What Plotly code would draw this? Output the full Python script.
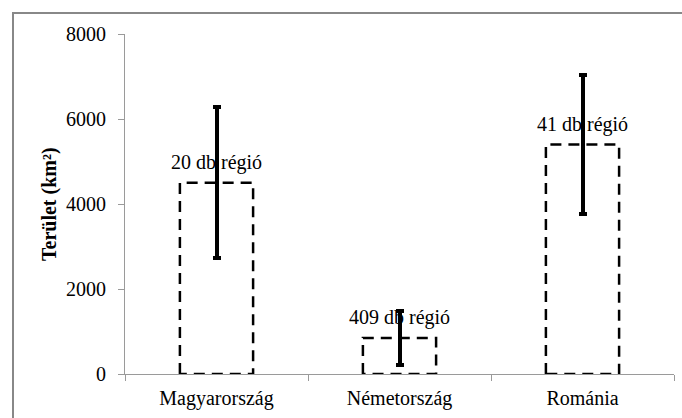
import plotly.graph_objects as go

categories = ["Magyarország", "Németország", "Románia"]
means = [4500, 850, 5400]
errors = [1780, 640, 1640]
labels = ["20 db régió", "409 db régió", "41 db régió"]
y_ticks = [0, 2000, 4000, 6000, 8000]

FONT = "'Liberation Serif', 'Times New Roman', serif"
BAR_W = 0.4
AX_COLOR = "#9a9a9a"

xs = list(range(len(categories)))

fig = go.Figure()

fig.add_trace(go.Bar(
    x=xs, y=means, width=BAR_W,
    marker=dict(color="white", line=dict(width=0)),
    error_y=dict(type="data", array=errors, visible=True,
                 color="black", thickness=4, width=4),
    showlegend=False, hoverinfo="skip",
))

for i, v in zip(xs, means):
    fig.add_trace(go.Scatter(
        x=[i - BAR_W / 2, i - BAR_W / 2, i + BAR_W / 2, i + BAR_W / 2, i - BAR_W / 2],
        y=[0, v, v, 0, 0],
        mode="lines",
        line=dict(color="black", width=2.5, dash="11px,7px"),
        showlegend=False, hoverinfo="skip",
    ))

for i, v, t in zip(xs, means, labels):
    fig.add_annotation(x=i, y=v, xref="x", yref="y", text=t, showarrow=False,
                       xanchor="center", yanchor="bottom", yshift=7,
                       font=dict(family=FONT, size=20, color="black"))

fig.add_annotation(xref="paper", yref="paper", x=(49 - 125) / 549, y=0.5,
                   xanchor="center", yanchor="middle",
                   text="<b>Terület (km²)</b>", textangle=-90, showarrow=False,
                   font=dict(family=FONT, size=20, color="black"))

# outer frame
fig.add_shape(type="rect", xref="paper", yref="paper",
              x0=(13 - 125) / 549, x1=1.2, y0=-0.5, y1=1 + (34 - 13) / 342,
              line=dict(color="#888888", width=2), fillcolor="rgba(0,0,0,0)", layer="below")

fig.update_layout(
    width=682, height=418,
    margin=dict(l=125, r=8, t=34, b=42),
    paper_bgcolor="white", plot_bgcolor="white",
    font=dict(family=FONT, size=20, color="black"),
    bargap=0,
)
fig.update_xaxes(
    range=[-0.5, 2.5], tickvals=xs, ticktext=categories, ticks="",
    showline=True, linecolor=AX_COLOR, linewidth=1, showgrid=False, zeroline=False,
    minor=dict(tickvals=[-0.5, 0.5, 1.5, 2.5], ticks="outside", ticklen=6,
               tickcolor=AX_COLOR, showgrid=False),
    ticklabelstandoff=6,
    tickfont=dict(family=FONT, size=20),
)
fig.update_yaxes(
    range=[0, 8000], tickvals=y_ticks, ticks="outside", ticklen=6, tickcolor=AX_COLOR,
    showline=True, linecolor=AX_COLOR, linewidth=1, showgrid=False, zeroline=False,
    ticklabelstandoff=8,
    tickfont=dict(family=FONT, size=20),
)

fig.write_html("out.html", config={"displayModeBar": False},
               post_script="document.body.style.margin='0';")
